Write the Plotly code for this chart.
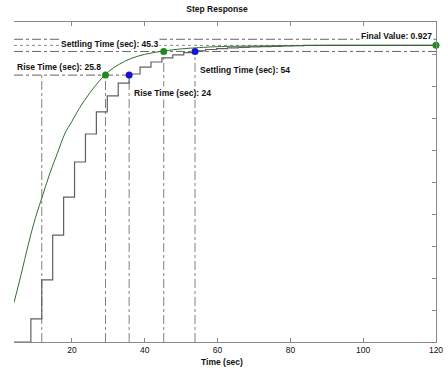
import plotly.graph_objects as go

# Continuous response (green)
cont_t = [4.07, 6, 8, 10, 12, 14, 16, 18, 20, 22, 25, 28, 30, 33, 36, 40, 45, 50, 55, 60, 70, 80, 90, 100, 110, 120]
cont_y = [0.123, 0.21, 0.305, 0.39, 0.46, 0.53, 0.59, 0.65, 0.69, 0.73, 0.78, 0.822, 0.845, 0.868, 0.885, 0.899,
          0.909, 0.916, 0.92, 0.923, 0.925, 0.926, 0.927, 0.927, 0.927, 0.927]

# Discrete (staircase) response
disc_t = [4.07, 8.7, 11.7, 14.7, 17.7, 20.7, 23.7, 26.7, 29.7, 32.7, 35.7, 38.7, 41.7, 44.7, 47.7, 50.7, 53.7,
          56.7, 59.7, 62.7, 65.7, 68.7, 71.7, 74.7, 77.7, 80.7, 83.7, 120]
disc_y = [0.0, 0.072, 0.194, 0.334, 0.453, 0.5625, 0.65, 0.719, 0.769, 0.809, 0.8375, 0.859, 0.875, 0.888, 0.897,
          0.904, 0.910, 0.914, 0.917, 0.919, 0.921, 0.922, 0.923, 0.924, 0.925, 0.926, 0.927, 0.927]

# Characteristics
final_value = 0.927
rise_level = 0.834
settle_low = 0.908
settle_high = 0.946
rise_start_disc = 11.7
rise_end_cont = 29.2
rise_end_disc = 35.7
settle_cont = 45.2
settle_disc = 53.8
x_min, x_max = 4.07, 120
x_ticks = [20, 40, 60, 80, 100, 120]
y_ticks = [0.1, 0.2, 0.3, 0.4, 0.5, 0.6, 0.7, 0.8, 0.9]

GREEN = "#2f6f2f"
GRAY = "#606060"
FONT = "Liberation Sans"
W, H = 448, 370
ML, MR, MT, MB = 14, 12, 22, 28

fig = go.Figure()

lc = dict(color="#666666", width=1, dash="dashdot")
shapes = []
shapes.append(dict(type="line", xref="x", yref="y", x0=x_min, x1=x_max, y0=final_value, y1=final_value,
                   line=dict(color="#888888", width=1, dash="dot"), layer="below"))
shapes.append(dict(type="line", xref="x", yref="y", x0=x_min, x1=x_max, y0=settle_low, y1=settle_low, line=lc, layer="below"))
shapes.append(dict(type="line", xref="x", yref="y", x0=x_min, x1=x_max, y0=settle_high, y1=settle_high, line=lc, layer="below"))
shapes.append(dict(type="line", xref="x", yref="y", x0=x_min, x1=rise_end_disc, y0=rise_level, y1=rise_level, line=lc, layer="below"))
for xv, top in [(rise_start_disc, rise_level), (rise_end_cont, rise_level), (rise_end_disc, rise_level),
                (settle_cont, settle_low), (settle_disc, settle_low)]:
    shapes.append(dict(type="line", xref="x", yref="y", x0=xv, x1=xv, y0=0, y1=top,
                       line=dict(color="#808080", width=1, dash="dashdot"), layer="below"))

fig.add_trace(go.Scatter(x=disc_t, y=disc_y, mode="lines", line=dict(color=GRAY, width=1.2, shape="hv"),
                         showlegend=False, hoverinfo="skip"))
fig.add_trace(go.Scatter(x=cont_t, y=cont_y, mode="lines", line=dict(color=GREEN, width=1, shape="spline"),
                         showlegend=False, hoverinfo="skip"))
fig.add_trace(go.Scatter(x=[rise_end_cont, settle_cont, x_max], y=[rise_level, settle_low, final_value],
                         mode="markers", marker=dict(color="#1f8a1f", size=7), showlegend=False, cliponaxis=False))
fig.add_trace(go.Scatter(x=[rise_end_disc, settle_disc], y=[rise_level, settle_low],
                         mode="markers", marker=dict(color="#1515cc", size=7), showlegend=False, cliponaxis=False))

tf = dict(family=FONT, size=8.5, color="#111111")
ann = []
def add(text, x, y, xanchor="left"):
    ann.append(dict(text=text, x=x, y=y, xref="x", yref="y", xanchor=xanchor, yanchor="middle",
                    showarrow=False, font=tf, bgcolor="white", borderpad=1))
add("<b>Rise Time (sec): 25.8</b>", 4.3, 0.859)
add("<b>Rise Time (sec): 24</b>", 36.6, 0.778)
add("<b>Settling Time (sec): 54</b>", 54.6, 0.85)
add("<b>Settling Time (sec): 45.3</b>", 16.3, 0.931)
add("<b>Final Value: 0.927</b>", 119.5, 0.955, xanchor="right")
# x-axis title (paper coords relative to plot area)
plot_w, plot_h = W - ML - MR, H - MT - MB
ann.append(dict(text="<b>Time (sec)</b>", x=(222 - ML) / plot_w, y=(H - MB - 362) / plot_h,
                xref="paper", yref="paper", xanchor="center", yanchor="middle", showarrow=False, font=tf))

fig.update_layout(
    width=W, height=H,
    margin=dict(l=ML, r=MR, t=MT, b=MB, autoexpand=False),
    paper_bgcolor="white", plot_bgcolor="white",
    shapes=shapes, annotations=ann,
    title=dict(text="<b>Step Response</b>", x=217 / W, xanchor="center", y=1 - 9 / H, yanchor="middle",
               yref="container", font=dict(family=FONT, size=8.5, color="#111111")),
    font=dict(family=FONT, size=9, color="#111111"),
)
fig.update_xaxes(range=[x_min, x_max], tickvals=x_ticks, showgrid=False, zeroline=False, automargin=False,
                 showline=True, linecolor="#888888", linewidth=1, mirror="ticks",
                 ticks="inside", ticklen=4, tickcolor="#888888",
                 tickfont=dict(family=FONT, size=8.5, color="#111111"),
                 tickprefix="<b>", ticksuffix="</b>")
fig.update_yaxes(range=[0, 1.0], tickvals=y_ticks, showgrid=False, zeroline=False, side="right", automargin=False,
                 showline=True, linecolor="#888888", linewidth=1, ticks="inside", ticklen=4,
                 tickcolor="#888888", showticklabels=False)

fig.write_html("out.html", config={"displayModeBar": False},
               post_script="document.body.style.margin='0';")
